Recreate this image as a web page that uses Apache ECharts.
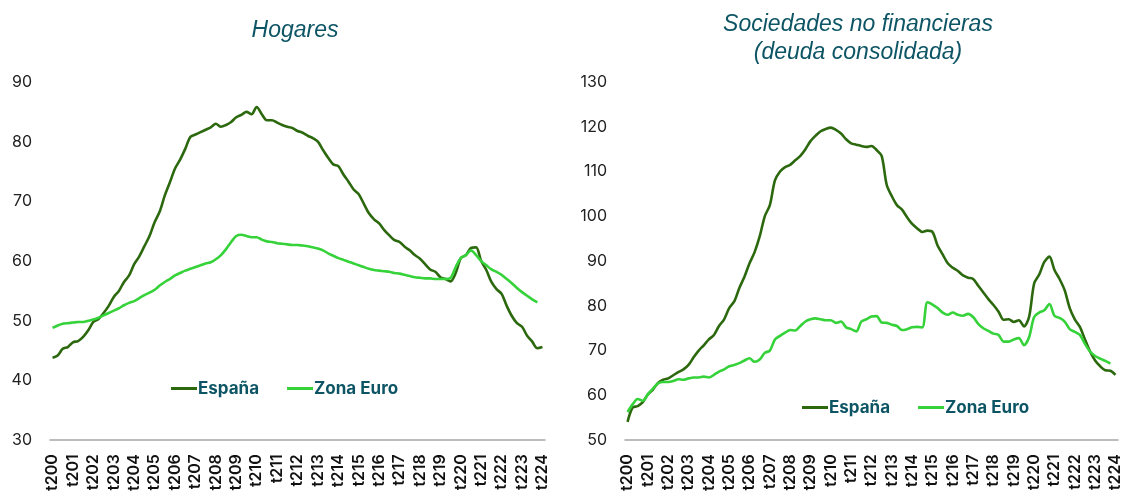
<!DOCTYPE html>
<html>
<head>
<meta charset="utf-8">
<script src="https://cdn.jsdelivr.net/npm/echarts@6/dist/echarts.min.js"></script>
<style>
  html, body { margin: 0; padding: 0; background: #fff; }
  #chart { width: 1124px; height: 494px; }
</style>
</head>
<body>
<div id="chart"></div>
<script>
// trimestres 2000T1 .. 2024T1, etiqueta cada 4
const years = [];
for (let y = 0; y <= 24; y++) years.push("t2" + String(y).padStart(2, "0"));
const categories = [];
years.forEach((lab, k) => {
  for (let q = 0; q < 4; q++) {
    if (k === 24 && q > 0) break;
    categories.push(q === 0 ? lab : lab + "_" + q);
  }
});

// Hogares (% PIB)
const hogaresEspana = [
  43.8, 44.2, 45.3, 45.6, 46.4, 46.6, 47.3, 48.4, 49.8, 50.3, 51.3, 52.5,
  54.0, 55.0, 56.5, 57.6, 59.5, 60.8, 62.5, 64.2, 66.5, 68.3, 71.0, 73.2,
  75.5, 77.0, 78.8, 80.8, 81.2, 81.6, 82.0, 82.4, 83.0, 82.5, 82.8, 83.3,
  84.1, 84.5, 85.0, 84.6, 85.8, 84.6, 83.6, 83.6, 83.2, 82.8, 82.5, 82.3,
  81.8, 81.5, 81.0, 80.6, 80.0, 78.6, 77.3, 76.2, 75.9, 74.5, 73.3, 72.0,
  71.2, 69.6, 68.0, 67.0, 66.3, 65.2, 64.3, 63.5, 63.2, 62.4, 61.8, 61.0,
  60.4, 59.5, 58.6, 58.2, 57.3, 57.0, 56.6, 58.0, 60.5, 61.0, 62.2, 62.3,
  60.0, 58.5, 56.5, 55.3, 54.5, 52.5, 50.8, 49.6, 49.0, 47.5, 46.5, 45.4,
  45.6
];
const hogaresZonaEuro = [
  48.8, 49.2, 49.5, 49.6, 49.7, 49.8, 49.8, 50.0, 50.2, 50.5, 50.9, 51.3,
  51.7, 52.1, 52.6, 53.0, 53.3, 53.8, 54.3, 54.7, 55.2, 55.9, 56.5, 57.0,
  57.6, 58.0, 58.4, 58.7, 59.0, 59.3, 59.6, 59.8, 60.3, 61.0, 62.0, 63.2,
  64.2, 64.4, 64.2, 64.0, 64.0, 63.6, 63.3, 63.2, 63.0, 62.9, 62.8, 62.7,
  62.7, 62.6, 62.5, 62.3, 62.1, 61.8, 61.3, 60.9, 60.5, 60.2, 59.9, 59.6,
  59.3, 59.0, 58.7, 58.5, 58.4, 58.3, 58.2, 58.0, 57.9, 57.7, 57.5, 57.3,
  57.2, 57.1, 57.1, 57.0, 57.0, 57.0, 57.2, 59.0, 60.5, 61.0, 61.8, 61.0,
  60.0, 59.3, 58.6, 58.2, 57.7, 57.0, 56.3, 55.5, 54.8, 54.2, 53.6, 53.1
];

// Sociedades no financieras (deuda consolidada, % PIB)
const sociedadesEspana = [
  54.1, 57.3, 57.6, 58.5, 60.2, 61.3, 62.8, 63.5, 63.8, 64.5, 65.2, 65.8,
  66.8, 68.5, 70.0, 71.2, 72.5, 73.5, 75.5, 77.0, 79.5, 81.0, 84.0, 86.5,
  89.5, 92.0, 95.5, 100.0, 102.5, 108.0, 110.0, 111.0, 111.5, 112.5, 113.5, 115.0,
  116.8, 118.0, 119.0, 119.5, 119.8, 119.3, 118.5, 117.2, 116.3, 116.0, 115.7, 115.5,
  115.7, 114.8, 113.5, 107.0, 104.5, 102.5, 101.5, 99.8, 98.3, 97.3, 96.5, 96.8,
  96.5, 93.5, 91.5, 89.5, 88.5, 87.8, 86.8, 86.3, 86.0, 84.5, 83.0, 81.5,
  80.2, 78.7, 76.9, 77.0, 76.4, 76.8, 75.4, 77.5, 85.0, 87.0, 89.8, 91.0,
  88.0, 86.0, 83.5, 79.5, 77.0, 75.3, 72.5, 69.8, 67.8, 66.5, 65.6, 65.5,
  64.6
];
const sociedadesZonaEuro = [
  56.3, 58.0, 59.2, 58.8, 60.3, 61.5, 62.7, 63.0, 63.0, 63.2, 63.6, 63.5,
  63.8, 64.0, 64.0, 64.2, 64.0, 64.6, 65.3, 65.8, 66.5, 66.8, 67.2, 67.8,
  68.3, 67.5, 68.0, 69.5, 70.0, 72.5, 73.3, 74.0, 74.6, 74.5, 75.5, 76.5,
  77.0, 77.2, 77.0, 76.8, 76.8, 76.2, 76.5, 75.2, 74.8, 74.3, 76.5, 77.0,
  77.6, 77.7, 76.3, 76.2, 75.8, 75.5, 74.6, 74.8, 75.2, 75.3, 75.2, 80.8,
  80.3, 79.5, 78.5, 78.0, 78.5, 78.0, 77.8, 78.2, 77.5, 76.0, 75.0, 74.4,
  73.8, 73.5, 72.0, 72.0, 72.5, 72.8, 71.2, 73.0, 77.5, 78.5, 79.0, 80.4,
  77.8, 77.3, 76.5, 74.8, 74.2, 73.5, 71.5, 69.8, 68.8, 68.2, 67.7, 67.1
];

const colorEspana = "#2c690e";
const colorZona = "#35d23a";
const tealText = "#0d5565";

function xAxisFor(idx) {
  return {
    type: "category",
    gridIndex: idx,
    data: categories,
    boundaryGap: true,
    axisLine: { lineStyle: { color: "#a6a6a6", width: 1.5 } },
    axisTick: { show: false },
    axisLabel: {
      rotate: 90,
      interval: 3,
      margin: 14,
      fontFamily: "Inter",
      fontSize: 16,
      fontWeight: 600,
      color: "#111",
      formatter: (v) => v.split("_")[0]
    }
  };
}
function yAxisFor(idx, min, max) {
  return {
    type: "value",
    gridIndex: idx,
    min: min,
    max: max,
    interval: 10,
    splitLine: { show: false },
    axisLine: { show: false },
    axisTick: { show: false },
    axisLabel: { fontFamily: "Inter", fontSize: 16, color: "#222", margin: 18 }
  };
}
function lineSeries(name, color, xi, data) {
  return {
    name: name,
    type: "line",
    xAxisIndex: xi,
    yAxisIndex: xi,
    data: data,
    symbol: "none",
    smooth: 0.3,
    lineStyle: { color: color, width: 2.6 },
    itemStyle: { color: color }
  };
}

const legendBase = {
  data: ["España", "Zona Euro"],
  icon: "rect",
  itemWidth: 26,
  itemHeight: 3,
  itemGap: 28,
  textStyle: { fontFamily: "Inter", fontSize: 17, fontWeight: "bold", color: tealText, padding: [0, 0, 0, -4] }
};

const chart = echarts.init(document.getElementById("chart"));
chart.setOption({
  animation: false,
  title: [
    {
      text: "Hogares",
      left: 290, top: 14, textAlign: "center",
      textStyle: { fontFamily: "Liberation Sans", fontStyle: "italic", fontWeight: "normal", fontSize: 23, color: tealText }
    },
    {
      text: "Sociedades no financieras\n(deuda consolidada)",
      left: 853, top: 6, textAlign: "center",
      textStyle: { fontFamily: "Liberation Sans", fontStyle: "italic", fontWeight: "normal", fontSize: 23, lineHeight: 28, color: tealText }
    }
  ],
  legend: [
    Object.assign({ left: 166, top: 375 }, legendBase),
    Object.assign({ left: 797, top: 394 }, legendBase)
  ],
  grid: [
    { left: 50, width: 495, top: 82, bottom: 53 },
    { left: 625, width: 493, top: 82, bottom: 53 }
  ],
  xAxis: [xAxisFor(0), xAxisFor(1)],
  yAxis: [yAxisFor(0, 30, 90), yAxisFor(1, 50, 130)],
  series: [
    lineSeries("España", colorEspana, 0, hogaresEspana),
    lineSeries("Zona Euro", colorZona, 0, hogaresZonaEuro),
    lineSeries("España", colorEspana, 1, sociedadesEspana),
    lineSeries("Zona Euro", colorZona, 1, sociedadesZonaEuro)
  ]
});
</script>
</body>
</html>
